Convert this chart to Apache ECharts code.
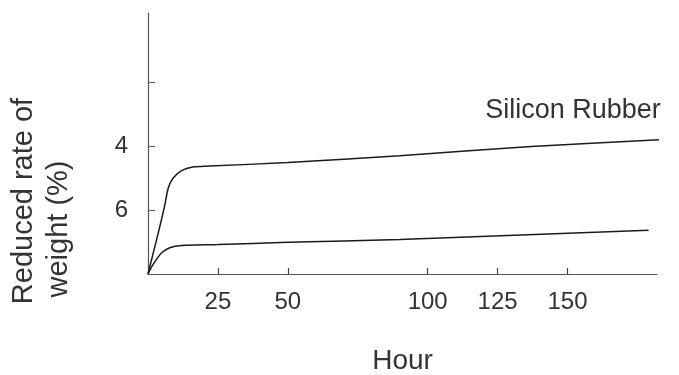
<!DOCTYPE html>
<html>
<head>
<meta charset="utf-8">
<script src="https://cdn.jsdelivr.net/npm/echarts@6/dist/echarts.min.js"></script>
<style>
  html, body { margin: 0; padding: 0; background: #fff; }
  #chart { width: 679px; height: 375px; }
</style>
</head>
<body>
<div id="chart"></div>
<script>
  // hours vs reduced rate of weight (%), y axis runs downward
  const siliconHours = [0, 2, 4, 6, 7.3, 9, 12, 16, 22, 50, 90, 137, 187];
  const siliconRate  = [8, 7.3, 6.6, 5.85, 5.3, 5.0, 4.77, 4.66, 4.63, 4.52, 4.31, 4.02, 3.79];
  const otherHours   = [0, 1.5, 3, 5, 8, 12, 25, 50, 90, 179];
  const otherRate    = [8, 7.75, 7.55, 7.33, 7.17, 7.11, 7.08, 7.01, 6.92, 6.63];
  const xTicks = [25, 50, 100, 125, 150];
  const yTicks = [2, 4, 6];
  const yLabels = [4, 6];

  const font = 'Liberation Sans, Arial, sans-serif';
  const textColor = '#333';

  function pairs(xs, ys) {
    return xs.map((x, i) => [x, ys[i]]);
  }

  const chart = echarts.init(document.getElementById('chart'));
  chart.setOption({
    animation: false,
    grid: { left: 148, right: 22, top: 13, bottom: 101, outerBoundsMode: 'none', containLabel: false },
    xAxis: {
      type: 'value',
      position: 'bottom',
      min: 0,
      max: 182,
      name: 'Hour',
      nameLocation: 'middle',
      nameGap: 73,
      nameTextStyle: { fontFamily: font, fontSize: 28, color: textColor },
      axisLine: { onZero: false, lineStyle: { color: '#555', width: 1.2 } },
      axisTick: { show: true, inside: true, length: 6, customValues: xTicks, lineStyle: { color: '#444', width: 1.2 } },
      axisLabel: { customValues: xTicks, margin: 16, fontFamily: font, fontSize: 24, color: textColor },
      splitLine: { show: false }
    },
    yAxis: {
      type: 'value',
      inverse: true,
      min: -0.15,
      max: 8,
      axisLine: { show: true, onZero: false, lineStyle: { color: '#555', width: 1.2 } },
      axisTick: { show: true, inside: true, length: 7, customValues: yTicks, lineStyle: { color: '#555' } },
      axisLabel: { customValues: yLabels, margin: 20, fontFamily: font, fontSize: 24, color: textColor },
      splitLine: { show: false }
    },
    graphic: [
      {
        type: 'text', x: 24, y: 201, rotation: Math.PI / 2,
        style: { text: 'Reduced rate of', fontFamily: font, fontSize: 29, fill: textColor, align: 'center', verticalAlign: 'middle' }
      },
      {
        type: 'text', x: 59, y: 229, rotation: Math.PI / 2,
        style: { text: 'weight (%)', fontFamily: font, fontSize: 29, fill: textColor, align: 'center', verticalAlign: 'middle' }
      },
      {
        type: 'text', x: 573, y: 111,
        style: { text: 'Silicon Rubber', fontFamily: font, fontSize: 27, fill: textColor, align: 'center', verticalAlign: 'middle' }
      }
    ],
    series: [
      {
        type: 'line',
        data: pairs(siliconHours, siliconRate),
        smooth: 0.3,
        showSymbol: false,
        clip: false,
        lineStyle: { color: '#1a1a1a', width: 1.5 }
      },
      {
        type: 'line',
        data: pairs(otherHours, otherRate),
        smooth: 0.3,
        showSymbol: false,
        clip: false,
        lineStyle: { color: '#1a1a1a', width: 1.5 }
      }
    ]
  });
</script>
</body>
</html>
